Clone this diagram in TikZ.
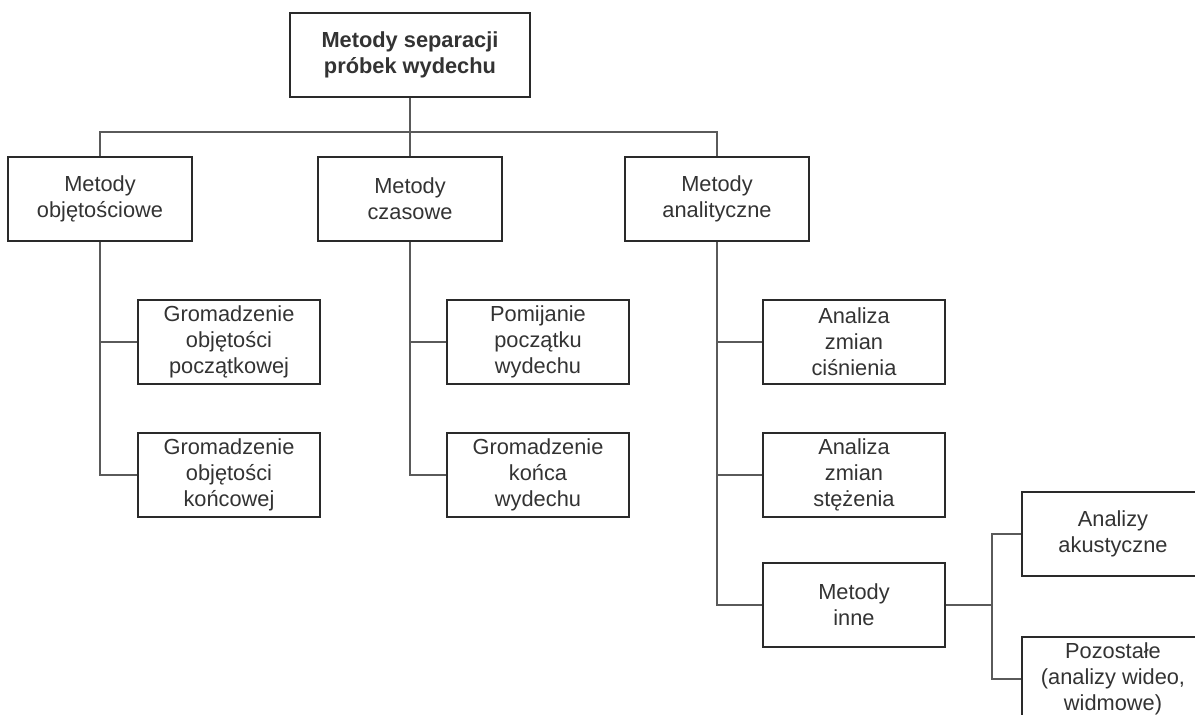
\documentclass[tikz,border=0pt]{standalone}
\usepackage{fontspec}
\setmainfont{Liberation Sans}
\usepackage{tikz}
\usetikzlibrary{positioning,calc}

\definecolor{boxline}{HTML}{2A2A2A}
\definecolor{linkline}{HTML}{5A5A5A}
\definecolor{txt}{HTML}{333333}

\begin{document}
\begin{tikzpicture}[
      x=1pt, y=-1pt,
      box/.style={rectangle, draw=boxline, line width=2.6pt, text=txt, font=\fontsize{21.8}{26}\selectfont, minimum width=184pt, minimum height=84pt, align=center, inner sep=2pt, fill=white},
      leaf/.style={box, minimum width=182pt},
      link/.style={draw=linkline, line width=1.6pt}
    ]
    \useasboundingbox (0,0) rectangle (1195,715);
    \clip (0,0) rectangle (1195,715);

    % root and first level
    \node[box, minimum width=240pt, font=\fontsize{21.8}{26}\selectfont\bfseries] (root) at (410,55) {Metody separacji\\próbek wydechu};
    \node[box] (obj) at (100,199) {Metody\\objętościowe};
    \node[box] (czas) at (410,199) {Metody\\czasowe};
    \node[box] (anal) at (717,199) {Metody\\analityczne};
    \coordinate (bar) at (410,132);

    % second level
    \node[leaf] (gpocz) at (229,342) {Gromadzenie\\objętości\\początkowej};
    \node[leaf] (gkon) at (229,475) {Gromadzenie\\objętości\\końcowej};
    \node[leaf] (pom) at (538,342) {Pomijanie\\początku\\wydechu};
    \node[leaf] (gkw) at (538,475) {Gromadzenie\\końca\\wydechu};
    \node[leaf] (cisn) at (854,342) {Analiza\\zmian\\ciśnienia};
    \node[leaf] (stez) at (854,475) {Analiza\\zmian\\stężenia};
    \node[leaf] (inne) at (854,605) {Metody\\inne};

    % third level
    \node[leaf] (akust) at (1113,534) {Analizy\\akustyczne};
    \node[leaf] (pozost) at (1113,679) {Pozostałe\\(analizy wideo,\\widmowe)};
    \coordinate (fork) at (992,605);

    \draw[link] (root.south) -- (czas.north);
    \draw[link] (obj.north) |- (bar) -| (anal.north);
    \draw[link] (obj.south) |- (gpocz.west);
    \draw[link] (obj.south) |- (gkon.west);
    \draw[link] (czas.south) |- (pom.west);
    \draw[link] (czas.south) |- (gkw.west);
    \draw[link] (anal.south) |- (cisn.west);
    \draw[link] (anal.south) |- (stez.west);
    \draw[link] (anal.south) |- (inne.west);
    \draw[link] (inne.east) -- (fork);
    \draw[link] (akust.west) -| (fork) |- (pozost.west);
  \end{tikzpicture}
\end{document}
